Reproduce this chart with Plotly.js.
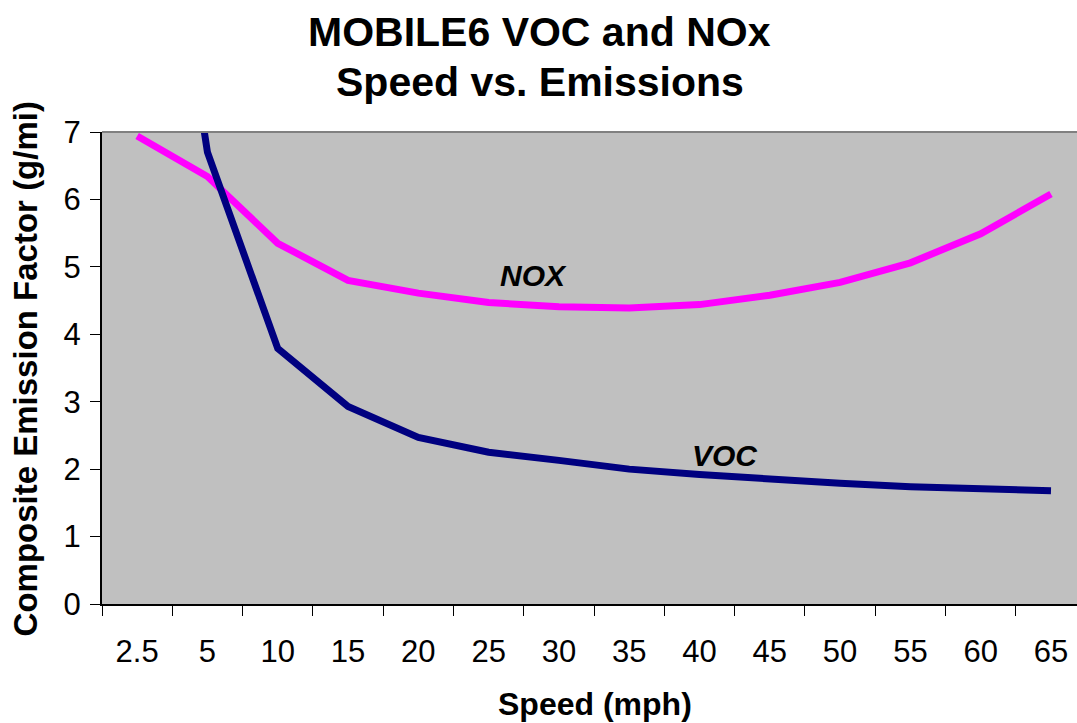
<!DOCTYPE html>
<html>
<head>
<meta charset="utf-8">
<script src="https://cdn.plot.ly/plotly-3.0.1.min.js"></script>
<style>html,body{margin:0;padding:0;overflow:hidden;background:#fff;}#chart{width:1077px;height:723px;}</style>
</head>
<body>
<div id="chart"></div>
<script>
const speeds = ['2.5','5','10','15','20','25','30','35','40','45','50','55','60','65'];
const noxValues = [6.94, 6.34, 5.35, 4.80, 4.61, 4.47, 4.41, 4.39, 4.44, 4.58, 4.77, 5.06, 5.49, 6.08];
const vocValues = [13.5, 6.70, 3.79, 2.93, 2.47, 2.25, 2.13, 2.00, 1.92, 1.85, 1.79, 1.74, 1.70, 1.68];
const yTicks = [0, 1, 2, 3, 4, 5, 6, 7];

const FONT = '"Liberation Sans", Arial, Helvetica, sans-serif';

const traces = [
  {x: speeds, y: noxValues, type: 'scatter', mode: 'lines', name: 'NOX',
   line: {color: '#FF00FF', width: 7}},
  {x: speeds, y: vocValues, type: 'scatter', mode: 'lines', name: 'VOC',
   line: {color: '#000080', width: 7}}
];

const layout = {
  width: 1077, height: 723,
  margin: {l: 102, r: 0, t: 132, b: 119, pad: 0},
  paper_bgcolor: '#FFFFFF',
  plot_bgcolor: '#C0C0C0',
  showlegend: false,
  font: {family: FONT, color: '#000000'},
  xaxis: {
    type: 'category',
    range: [-0.5, 13.37],
    tickson: 'boundaries',
    ticks: 'outside', ticklen: 10, tickcolor: '#000', tickwidth: 1,
    showline: true, linecolor: '#000', linewidth: 2,
    showgrid: false, zeroline: false,
    tickfont: {family: FONT, size: 31, color: '#000'},
    ticklabelstandoff: 19,
    fixedrange: true
  },
  yaxis: {
    range: [0, 7],
    tickvals: yTicks,
    ticks: 'outside', ticklen: 10, tickcolor: '#000', tickwidth: 1,
    showline: true, linecolor: '#000', linewidth: 2,
    showgrid: false, zeroline: false,
    tickfont: {family: FONT, size: 31, color: '#000'},
    ticklabelstandoff: 3,
    fixedrange: true
  },
  shapes: [
    {type: 'line', xref: 'paper', yref: 'paper', x0: 0, x1: 1, y0: 1, y1: 1,
     line: {color: '#808080', width: 2}}
  ],
  annotations: [
    {text: 'MOBILE6 VOC and NOx', xref: 'paper', yref: 'paper', x: 0.449, y: 1.212,
     xanchor: 'center', yanchor: 'middle', showarrow: false,
     font: {family: FONT, size: 41, weight: 700, color: '#000'}},
    {text: 'Speed vs. Emissions', xref: 'paper', yref: 'paper', x: 0.449, y: 1.106,
     xanchor: 'center', yanchor: 'middle', showarrow: false,
     font: {family: FONT, size: 41, weight: 700, color: '#000'}},
    {text: 'Speed (mph)', xref: 'paper', yref: 'paper', x: 0.5056, y: -0.2119,
     xanchor: 'center', yanchor: 'middle', showarrow: false,
     font: {family: FONT, size: 32, weight: 700, color: '#000'}},
    {text: 'Composite Emission Factor (g/mi)', xref: 'paper', yref: 'paper', x: -0.079, y: 0.499,
     xanchor: 'center', yanchor: 'middle', showarrow: false, textangle: -90,
     font: {family: FONT, size: 33, weight: 700, color: '#000'}},
    {text: '<i>NOX</i>', xref: 'paper', yref: 'paper', x: 0.443, y: 0.695,
     xanchor: 'center', yanchor: 'middle', showarrow: false,
     font: {family: FONT, size: 30, weight: 700, color: '#000'}},
    {text: '<i>VOC</i>', xref: 'paper', yref: 'paper', x: 0.639, y: 0.3136,
     xanchor: 'center', yanchor: 'middle', showarrow: false,
     font: {family: FONT, size: 30, weight: 700, color: '#000'}}
  ]
};

Plotly.newPlot('chart', traces, layout, {displayModeBar: false, staticPlot: true});
</script>
</body>
</html>
